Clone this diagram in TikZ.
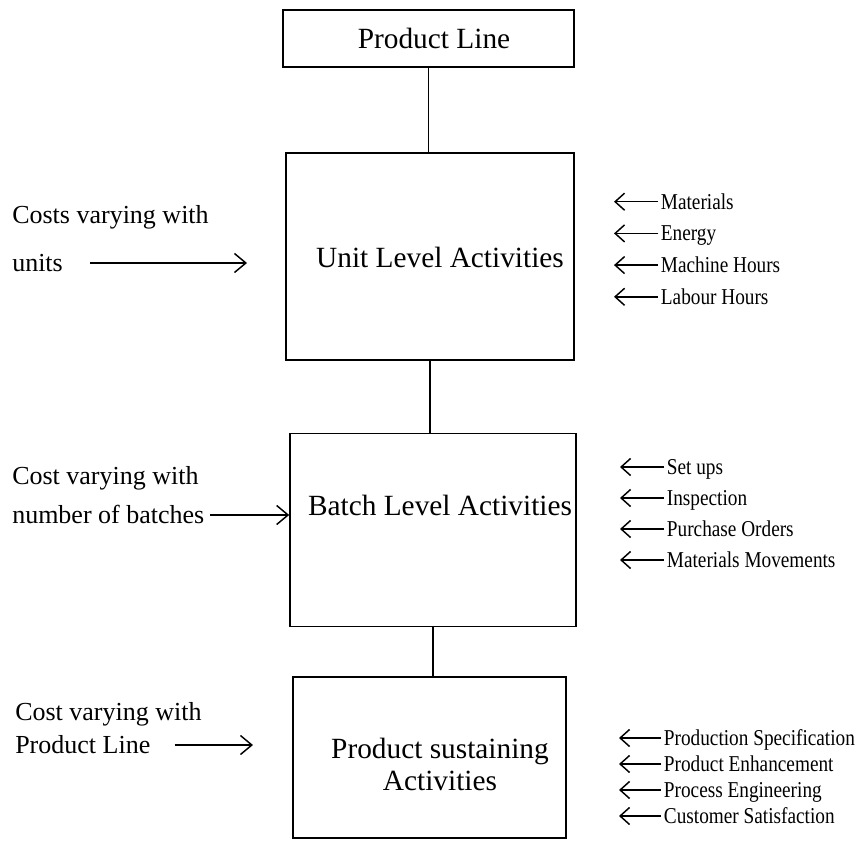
\documentclass[tikz,border=0pt]{standalone}
\usepackage{fontspec}
\setmainfont{Liberation Serif}
\newfontfamily\condfont[FakeStretch=0.85]{Liberation Serif}
\usetikzlibrary{arrows.meta}

\tikzset{
  box/.style={draw, line width=1.2pt, inner sep=0pt},
  main/.style={font=\fontsize{22}{24}\selectfont, align=center},
  side/.style={font=\fontsize{19.5}{22}\selectfont, anchor=west, inner sep=0pt, text height=13pt, text depth=0pt},
  driver/.style={font=\condfont\fontsize{17}{20}\selectfont, anchor=west, inner sep=2pt, text height=11pt, text depth=0pt},
  inarr/.style={line width=1.1pt, -{Straight Barb[length=3mm,width=5mm]}},
  drvarr/.style={line width=1.1pt, -{Straight Barb[length=2.5mm,width=4.5mm]}},
  link/.style={line width=1pt}
}

\begin{document}
\begin{tikzpicture}[x=0.75pt,y=-0.75pt]
    \useasboundingbox (0,0) rectangle (856,841);

    % the four levels
    \node[box, minimum width=218pt, minimum height=43pt] (line) at (428.5,38.5) {};
    \node[box, minimum width=216pt, minimum height=155pt] (unit) at (430,256.5) {};
    \node[box, minimum width=214.5pt, minimum height=145pt] (batch) at (433,530) {};
    \node[box, minimum width=205pt, minimum height=121pt] (sust) at (429.5,757.5) {};

    \node[main] (linetxt) at (434,38) {Product Line};
    \node[main] (unittxt) at (440,257) {Unit Level Activities};
    \node[main] (batchtxt) at (440,505) {Batch Level Activities};
    \node[main] (susttxt) at (440,764) {Product sustaining\\Activities};

    \draw[link] (line.south) -- (line.south |- unit.north);
    \draw[link] (unit.south) -- (unit.south |- batch.north);
    \draw[link] (batch.south) -- (batch.south |- sust.north);

    % costs on the left
    \node[side] (unitc1) at (12,215) {Costs varying with};
    \node[side] (unitc2) at (12,263) {units};
    \coordinate (unitin) at (247,263);
    \draw[inarr] ([xshift=20pt]unitc2.east) -- (unitin);

    \node[side] (batchc1) at (12,476) {Cost varying with};
    \node[side] (batchc2) at (12,515) {number of batches};
    \draw[inarr] ([xshift=4pt]batchc2.east) -- (batchc2.east -| batch.west);

    \node[side] (sustc1) at (15,712) {Cost varying with};
    \node[side] (sustc2) at (15,745) {Product Line};
    \coordinate (sustin) at (253,745);
    \draw[inarr] ([xshift=18pt]sustc2.east) -- (sustin);

    % drivers on the right
    \foreach \txt [count=\i] in {Materials, Energy, Machine Hours, Labour Hours}{
        \node[driver] (unitd\i) at (658,170+31.7*\i) {\txt};
        \draw[drvarr] (unitd\i.west) -- ++(-44,0);
    }
    \foreach \txt [count=\i] in {Set ups, Inspection, Purchase Orders, Materials Movements}{
        \node[driver] (batchd\i) at (664,436+31*\i) {\txt};
        \draw[drvarr] (batchd\i.west) -- ++(-44,0);
    }
    \foreach \txt [count=\i] in {Production Specification, Product Enhancement, Process Engineering, Customer Satisfaction}{
        \node[driver] (sustd\i) at (661,712+26*\i) {\txt};
        \draw[drvarr] (sustd\i.west) -- ++(-42,0);
    }
\end{tikzpicture}
\end{document}
